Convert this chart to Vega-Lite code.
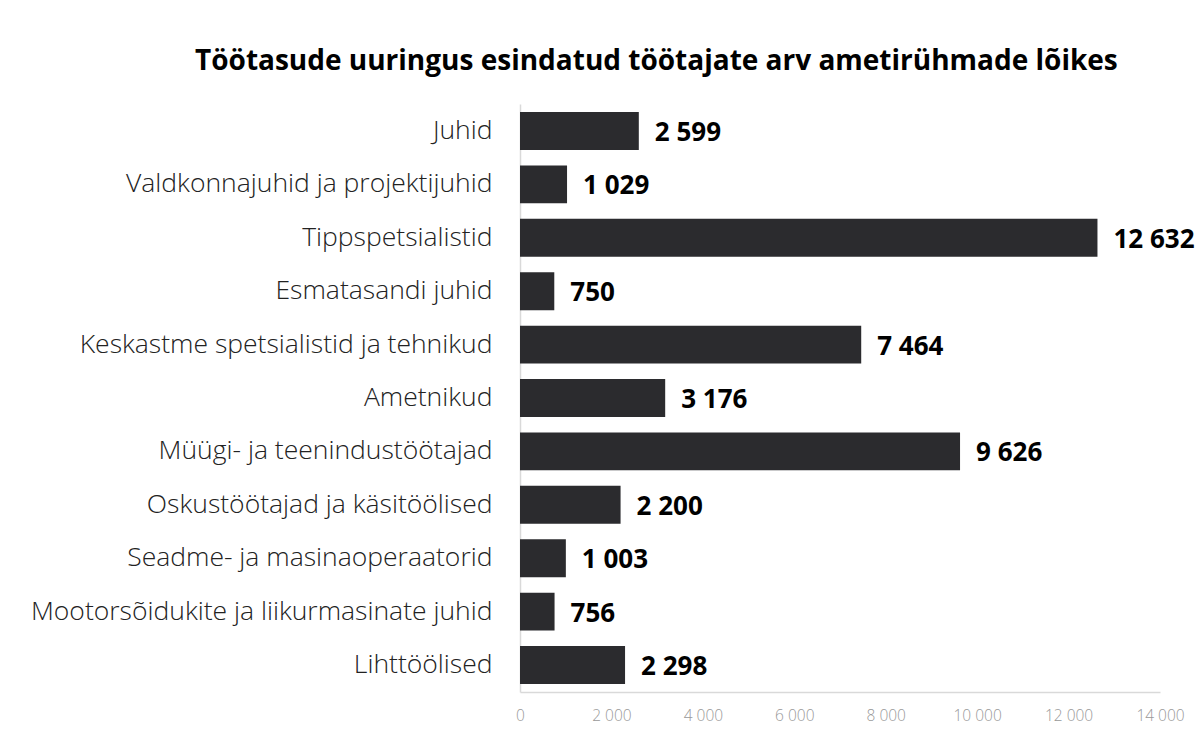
{
  "$schema": "https://vega.github.io/schema/vega-lite/v6.json",
  "autosize": "none",
  "padding": {"left": 520, "top": 104, "right": 40, "bottom": 41},
  "width": 640,
  "height": 588,
  "background": "white",
  "config": {
    "font": "Open Sans",
    "view": {"stroke": null},
    "locale": {"number": {"decimal": ",", "thousands": " ", "grouping": [3], "currency": ["", " €"]}}
  },
  "title": {
    "text": "Töötasude uuringus esindatud töötajate arv ametirühmade lõikes",
    "anchor": "start",
    "frame": "group",
    "dx": -325,
    "offset": 28,
    "fontSize": 28,
    "fontWeight": "bold",
    "color": "#000000",
    "font": "Open Sans"
  },
  "data": {
    "values": [
      {"group": "Juhid", "count": 2599},
      {"group": "Valdkonnajuhid ja projektijuhid", "count": 1029},
      {"group": "Tippspetsialistid", "count": 12632},
      {"group": "Esmatasandi juhid", "count": 750},
      {"group": "Keskastme spetsialistid ja tehnikud", "count": 7464},
      {"group": "Ametnikud", "count": 3176},
      {"group": "Müügi- ja teenindustöötajad", "count": 9626},
      {"group": "Oskustöötajad ja käsitöölised", "count": 2200},
      {"group": "Seadme- ja masinaoperaatorid", "count": 1003},
      {"group": "Mootorsõidukite ja liikurmasinate juhid", "count": 756},
      {"group": "Lihttöölised", "count": 2298}
    ]
  },
  "encoding": {
    "y": {
      "field": "group",
      "type": "nominal",
      "sort": null,
      "scale": {"paddingInner": 0.29, "paddingOuter": 0.15},
      "axis": {
        "title": null,
        "ticks": false,
        "domain": true,
        "domainColor": "#d9d9d9",
        "domainWidth": 1.5,
        "labelFont": "Open Sans",
        "labelFontWeight": 300,
        "labelFontSize": 26.5,
        "labelColor": "#222222",
        "labelPadding": 28,
        "labelLimit": 700
      }
    },
    "x": {
      "field": "count",
      "type": "quantitative",
      "scale": {"domain": [0, 14000], "nice": false},
      "axis": {
        "title": null,
        "values": [0, 2000, 4000, 6000, 8000, 10000, 12000, 14000],
        "format": ",.0f",
        "grid": false,
        "ticks": false,
        "labelFlush": false,
        "domainColor": "#d9d9d9",
        "domainWidth": 1.5,
        "labelFont": "Open Sans",
        "labelFontWeight": 300,
        "labelFontSize": 15.5,
        "labelColor": "#999999",
        "labelPadding": 16
      }
    }
  },
  "layer": [
    {"mark": {"type": "bar", "color": "#2b2b2e"}},
    {
      "mark": {"type": "text", "align": "left", "baseline": "middle", "dx": 16, "dy": 2, "fontSize": 26, "fontWeight": "bold", "color": "#000000", "font": "Open Sans"},
      "encoding": {"text": {"field": "count", "type": "quantitative", "format": ",.0f"}}
    }
  ]
}
